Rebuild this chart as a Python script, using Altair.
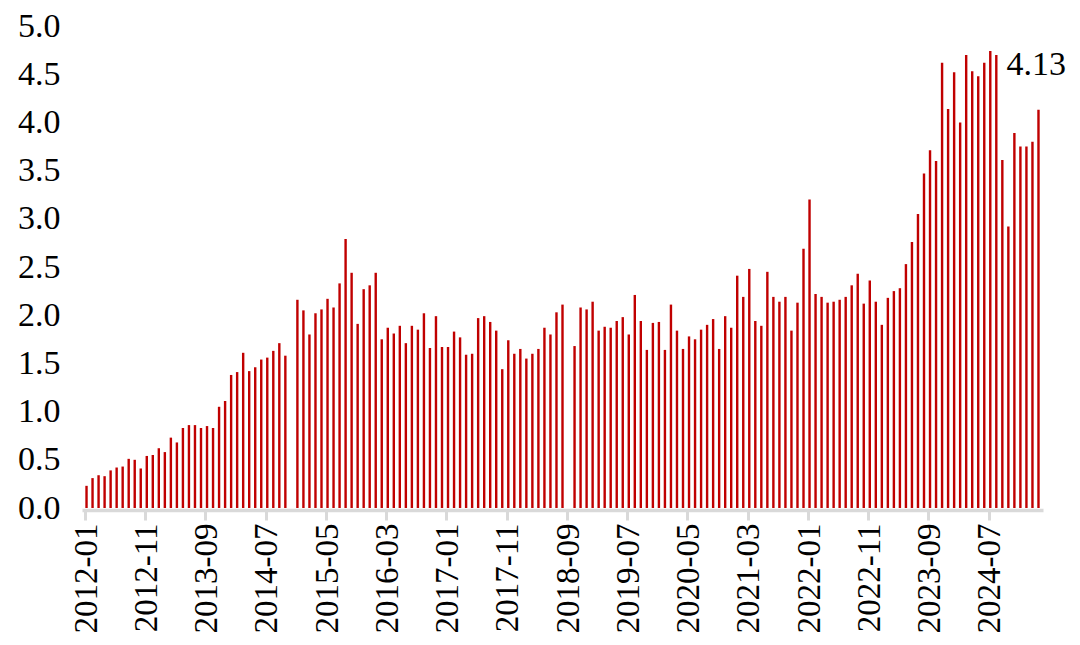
import altair as alt
import pandas as pd

# Monthly categories 2012-01 .. 2025-03
months = [f"{2012 + i // 12}-{i % 12 + 1:02d}" for i in range(159)]

values = [
    0.23, 0.31, 0.34, 0.33, 0.39, 0.42, 0.43, 0.51, 0.50, 0.41, 0.54, 0.55,
    0.62, 0.58, 0.73, 0.68, 0.83, 0.86, 0.86, 0.83, 0.85, 0.83, 1.05, 1.11,
    1.38, 1.41, 1.61, 1.42, 1.46, 1.54, 1.56, 1.63, 1.71, 1.58, None, 2.16,
    2.05, 1.80, 2.02, 2.06, 2.17, 2.08, 2.33, 2.79, 2.44, 1.91, 2.27, 2.31,
    2.44, 1.75, 1.87, 1.81, 1.89, 1.71, 1.89, 1.85, 2.02, 1.66, 1.99, 1.67,
    1.67, 1.83, 1.77, 1.59, 1.60, 1.97, 1.99, 1.93, 1.84, 1.44, 1.74, 1.60,
    1.65, 1.55, 1.60, 1.65, 1.87, 1.80, 2.03, 2.11, None, 1.68, 2.08, 2.06,
    2.14, 1.84, 1.88, 1.87, 1.94, 1.98, 1.80, 2.21, 1.94, 1.64, 1.92, 1.93,
    1.64, 2.11, 1.84, 1.65, 1.78, 1.75, 1.85, 1.90, 1.96, 1.65, 1.99, 1.87,
    2.41, 2.19, 2.48, 1.94, 1.89, 2.45, 2.19, 2.14, 2.19, 1.84, 2.13, 2.69,
    3.20, 2.22, 2.19, 2.13, 2.14, 2.16, 2.19, 2.31, 2.43, 2.12, 2.36, 2.14,
    1.90, 2.18, 2.25, 2.28, 2.53, 2.76, 3.05, 3.47, 3.71, 3.60, 4.62, 4.14,
    4.52, 4.00, 4.70, 4.53, 4.48, 4.62, 4.74, 4.70, 3.61, 2.92, 3.89, 3.75,
    3.75, 3.80, 4.13,
]

tick_labels = [
    "2012-01", "2012-11", "2013-09", "2014-07", "2015-05", "2016-03",
    "2017-01", "2017-11", "2018-09", "2019-07", "2020-05", "2021-03",
    "2022-01", "2022-11", "2023-09", "2024-07",
]

y_ticks = [0.0, 0.5, 1.0, 1.5, 2.0, 2.5, 3.0, 3.5, 4.0, 4.5, 5.0]

df = pd.DataFrame({"month": months, "value": values})
df_last = df.tail(1).copy()
df_last["label"] = df_last["value"].map(lambda v: f"{v:.2f}")

FONT = "Liberation Serif"
x_scale = alt.Scale(domain=months, paddingInner=0.6, paddingOuter=0.55)
y_scale = alt.Scale(domain=[0, 5], nice=False, zero=True)

x_enc = alt.X(
    "month:O",
    scale=x_scale,
    sort=None,
    title=None,
    axis=alt.Axis(
        values=tick_labels,
        labelAngle=270,
        bandPosition=0,
        labelFont=FONT,
        labelFontSize=33,
        labelColor="black",
        labelPadding=3,
        domainColor="#D9D9D9",
        domainWidth=3.5,
        tickColor="#D9D9D9",
        tickWidth=3,
        tickSize=10,
        offset=2,
        grid=False,
        labelOverlap=False,
    ),
)

y_enc = alt.Y(
    "value:Q",
    scale=y_scale,
    title=None,
    axis=alt.Axis(
        values=y_ticks,
        format=".1f",
        labelFont=FONT,
        labelFontSize=34,
        labelColor="black",
        labelPadding=22,
        domain=False,
        ticks=False,
        grid=False,
    ),
)

bars = alt.Chart(df).mark_bar(color="#C00000").encode(x=x_enc, y=y_enc)

label = alt.Chart(df_last).mark_text(
    align="left",
    baseline="alphabetic",
    dx=-32,
    dy=-35,
    font=FONT,
    fontSize=34,
    color="black",
).encode(
    x=alt.X("month:O", scale=x_scale, sort=None),
    y=alt.Y("value:Q", scale=y_scale),
    text="label:N",
)

chart = (
    alt.layer(bars, label)
    .properties(
        width=961,
        height=482,
        autosize=alt.AutoSizeParams(type="none"),
        padding={"left": 74, "top": 18, "right": 29, "bottom": 129},
        background="white",
    )
    .configure_view(stroke=None)
)

chart.save("out.html", embed_options={"renderer": "svg", "actions": False})
